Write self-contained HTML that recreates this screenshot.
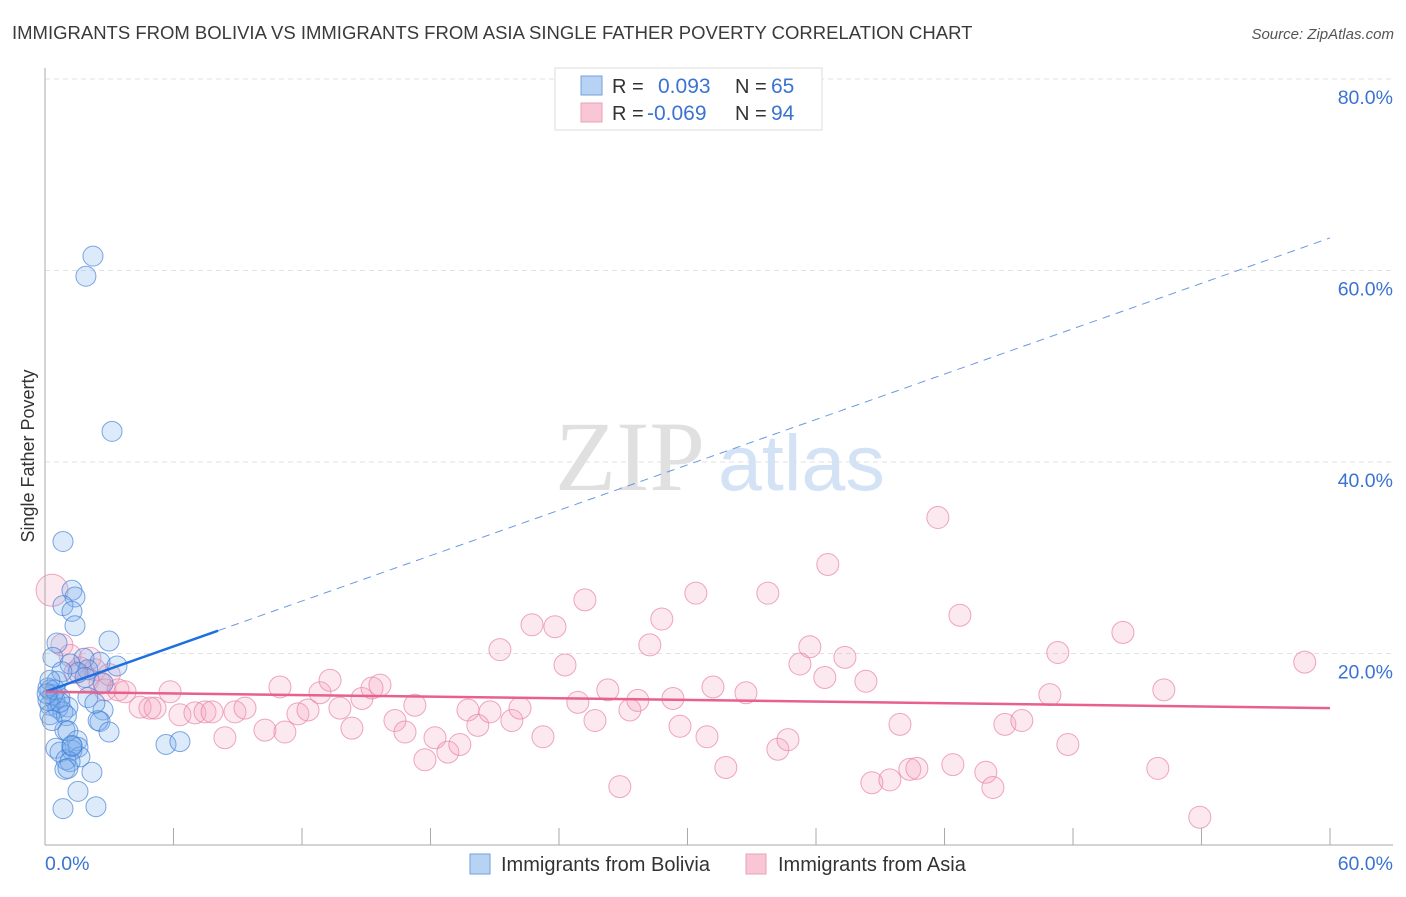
<!DOCTYPE html>
<html><head><meta charset="utf-8"><style>
body{margin:0;background:#fff;font-family:"Liberation Sans",sans-serif}
svg text{font-family:"Liberation Sans",sans-serif}
</style></head><body>
<svg id="chart" width="1406" height="892" viewBox="0 0 1406 892" xmlns="http://www.w3.org/2000/svg">
<text x="12" y="39" font-size="18.5" fill="#3a3a3a">IMMIGRANTS FROM BOLIVIA VS IMMIGRANTS FROM ASIA SINGLE FATHER POVERTY CORRELATION CHART</text>
<text x="1394" y="39" font-size="15" fill="#555" text-anchor="end" font-style="italic">Source: ZipAtlas.com</text>
<g id="grid"></g>
<g>
<text x="555" y="490" font-size="100" fill="#e0e0e0" style="font-family:'Liberation Serif',serif">ZIP</text>
<text x="718" y="490" font-size="79" fill="#d3e2f5">atlas</text>
</g>
<g id="pts"></g>
<g id="trends"></g>
<g id="axes"></g>
<text transform="translate(34,456) rotate(-90)" font-size="18" fill="#333" text-anchor="middle">Single Father Poverty</text>
<g>
<rect x="555" y="68" width="267" height="62" fill="#fff" stroke="#ddd"/>
<rect x="581" y="76" width="21" height="19" fill="#b8d2f4" stroke="#6fa0e0"/>
<rect x="581" y="103" width="21" height="19" fill="#f9c6d5" stroke="#eaa0b8"/>
<text x="612" y="93" font-size="20" fill="#333">R =</text><text x="658" y="93" font-size="21" fill="#3b73d1">0.093</text>
<text x="735" y="93" font-size="20" fill="#333">N =</text><text x="771" y="93" font-size="21" fill="#3b73d1">65</text>
<text x="612" y="120" font-size="20" fill="#333">R =</text><text x="647" y="120" font-size="21" fill="#3b73d1">-0.069</text>
<text x="735" y="120" font-size="20" fill="#333">N =</text><text x="771" y="120" font-size="21" fill="#3b73d1">94</text>
</g>
<g>
<rect x="470" y="854" width="20" height="20" fill="#b8d2f4" stroke="#6fa0e0"/>
<text x="501" y="871" font-size="20" fill="#333">Immigrants from Bolivia</text>
<rect x="746" y="854" width="20" height="20" fill="#f9c6d5" stroke="#eaa0b8"/>
<text x="778" y="871" font-size="20" fill="#333">Immigrants from Asia</text>
</g>
</svg>
<script>
const yTicks=[20,40,60,80];
const yTickLabels=["20.0%","40.0%","60.0%","80.0%"];
const xTicks=[0,6,12,18,24,30,36,42,48,54,60];
const boliviaX=[2.24,1.91,3.13,0.84,1.26,1.4,0.84,1.26,1.4,0.56,2.99,0.37,1.82,2.57,3.36,1.17,2.0,1.54,0.56,2.71,0.23,0.37,0.7,0.47,0.23,0.6,1.07,0.84,0.23,2.71,1.0,2.57,2.48,2.99,0.93,1.07,0.51,0.7,1.5,1.54,1.26,1.63,0.98,1.17,2.19,0.93,1.07,1.54,2.38,0.84,1.26,5.65,6.3,0.33,0.14,0.14,0.47,0.79,0.23,1.87,1.26,2.0,2.33,0.7,0.1];
const boliviaY=[61.5,59.4,43.2,31.7,26.6,25.9,25.0,24.4,22.9,21.1,21.3,19.6,19.5,19.1,18.7,18.9,18.3,18.0,17.1,16.9,16.2,15.7,15.4,15.1,14.6,14.3,14.4,13.9,13.6,14.1,13.5,12.9,13.0,11.8,12.0,11.9,10.1,9.7,10.9,10.2,9.9,9.2,8.9,8.7,7.6,7.9,8.0,5.6,4.0,3.8,10.3,10.5,10.8,13.0,15.1,16.4,16.2,18.1,17.2,17.5,10.4,15.4,14.8,14.9,15.8];
const asiaX=[0.33,0.79,1.17,1.63,2.33,2.0,2.57,2.8,3.41,3.74,4.44,5.14,5.84,4.9,6.3,7.0,7.47,7.8,8.87,9.34,8.4,10.27,11.2,10.97,11.81,12.28,12.84,13.31,13.77,14.33,14.8,15.27,15.64,16.34,16.81,17.27,17.74,18.21,18.81,19.37,19.75,20.21,20.78,21.24,21.8,22.18,22.74,23.25,23.81,24.28,24.88,25.21,25.68,26.28,26.84,27.31,27.68,28.24,28.8,29.32,29.65,30.39,30.91,31.19,31.79,32.73,33.75,34.22,34.69,35.25,35.71,36.41,36.55,37.35,38.33,38.61,39.45,39.92,40.38,40.71,41.69,42.39,42.72,43.93,44.26,44.82,45.61,46.92,47.29,47.76,50.33,51.96,52.24,53.92,58.82,1.4,2.1,3.0];
const asiaY=[26.6,20.9,19.8,18.5,18.3,17.2,16.9,16.2,16.2,16.0,14.4,14.3,16.0,14.3,13.6,13.8,13.9,13.9,13.9,14.3,11.2,12.0,11.8,16.5,13.7,14.1,15.9,17.2,14.3,12.2,15.3,16.4,16.7,13.0,11.8,14.6,8.9,11.2,9.7,10.5,14.1,12.5,13.9,20.4,13.0,14.3,23.0,11.3,22.8,18.8,14.9,25.6,13.0,16.2,6.1,14.1,15.1,20.9,23.6,15.3,12.4,26.3,11.3,16.5,8.1,15.9,26.3,10.0,11.0,18.9,20.7,17.5,29.3,19.6,17.1,6.5,6.8,12.6,7.9,8.0,34.2,8.4,24.0,7.6,6.0,12.6,13.0,15.7,20.1,10.5,22.2,8.0,16.2,2.9,19.1,18.0,19.5,17.8];
const boliviaTrend=[16.0,63.4];
const boliviaSolidEnd=8.08;
const asiaTrend=[16.0,14.3];
const NS="http://www.w3.org/2000/svg";
const X0=45,X1=1330,Y0=845,Y80=79;
function sx(v){return X0+(X1-X0)*v/60;}
function sy(v){return Y0-(Y0-Y80)*v/80;}
function mk(tag,attrs,parent){const e=document.createElementNS(NS,tag);for(const k in attrs)e.setAttribute(k,attrs[k]);parent.appendChild(e);return e;}
const grid=document.getElementById('grid'),axes=document.getElementById('axes'),pts=document.getElementById('pts'),tr=document.getElementById('trends');
yTicks.forEach((t,i)=>{
  const l=mk('line',{x1:X0,x2:1393,y1:sy(t),y2:sy(t),stroke:'#e2e2e2','stroke-dasharray':'5,4'},grid);
  
  
  const tx=mk('text',{x:1393,y:sy(t)+25,'font-size':19.5,fill:'#3b73d1','text-anchor':'end'},axes);
  tx.textContent=yTickLabels[i];
  
  
});
let a=mk('line',{x1:X0,x2:X0,y1:68,y2:Y0,stroke:'#aaa'},axes);


a=mk('line',{x1:X0,x2:1393,y1:Y0,y2:Y0,stroke:'#aaa'},axes);


xTicks.forEach(t=>{
  const l=mk('line',{x1:sx(t),x2:sx(t),y1:828,y2:Y0,stroke:'#aaa'},axes);
  
  
});
let t0=mk('text',{x:45,y:870,'font-size':19.5,fill:'#3b73d1'},axes);t0.textContent='0.0%';


let t1=mk('text',{x:1393,y:870,'font-size':19.5,fill:'#3b73d1','text-anchor':'end'},axes);t1.textContent='60.0%';


asiaX.forEach((x,i)=>{
  const c=mk('circle',{cx:sx(x),cy:sy(asiaY[i]),r:i===0?16:11,fill:'rgba(244,165,192,0.25)',stroke:'rgba(232,130,165,0.7)','stroke-width':1},pts);
  
  
});
boliviaX.forEach((x,i)=>{
  const c=mk('circle',{cx:sx(x),cy:sy(boliviaY[i]),r:10,fill:'rgba(120,170,235,0.25)',stroke:'rgba(70,130,215,0.7)','stroke-width':1},pts);
  
  
});
function bt(x){return boliviaTrend[0]+(boliviaTrend[1]-boliviaTrend[0])*x/60;}
let l1=mk('line',{x1:sx(0),y1:sy(bt(0)),x2:sx(boliviaSolidEnd),y2:sy(bt(boliviaSolidEnd)),stroke:'#1f6fe0','stroke-width':2.5},tr);


let l2=mk('line',{x1:sx(boliviaSolidEnd),y1:sy(bt(boliviaSolidEnd)),x2:sx(60),y2:sy(bt(60)),stroke:'#6b9ae0','stroke-width':1,'stroke-dasharray':'8,6'},tr);


let l3=mk('line',{x1:sx(0),y1:sy(asiaTrend[0]),x2:sx(60),y2:sy(asiaTrend[1]),stroke:'#e8608c','stroke-width':2.5},tr);


</script>
</body></html>
